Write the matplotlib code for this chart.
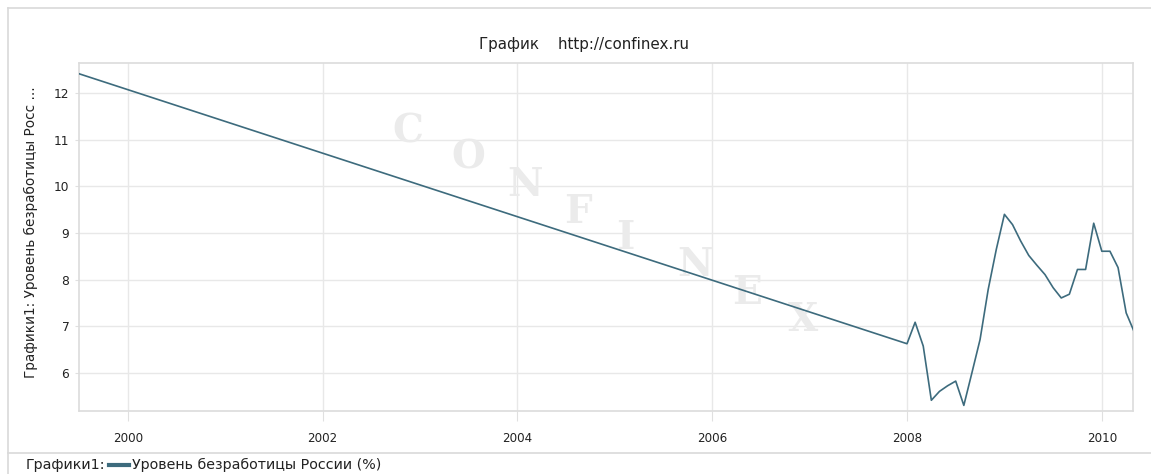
import numpy as np
import matplotlib.pyplot as plt
from matplotlib.lines import Line2D

# данные (годы в десятичном виде)
years = [1999.5, 2008.0]
values = [12.41, 6.63]

months_2008 = [2008 + i / 12.0 for i in range(1, 29)]
values_2008 = [7.09, 6.58, 5.42, 5.61, 5.73, 5.83, 5.31, 6.01, 6.72, 7.79, 8.65,
               9.40, 9.18, 8.83, 8.52, 8.31, 8.11, 7.83, 7.61, 7.69, 8.22, 8.22,
               9.21, 8.61, 8.61, 8.26, 7.29, 6.88]

x = np.array(years + months_2008)
y = np.array(values + values_2008)

xticks = [2000, 2002, 2004, 2006, 2008, 2010]
yticks = [6, 7, 8, 9, 10, 11, 12]
watermark = "CONFINEX"

W, H = 1151, 474
fig = plt.figure(figsize=(W / 100, H / 100), dpi=100)
fig.patch.set_facecolor('white')

# рамка панели
frame_col = '#d9d9d9'
fig.add_artist(Line2D([8 / W, 1], [1 - 8 / H, 1 - 8 / H], color=frame_col, lw=1.2))
fig.add_artist(Line2D([8 / W, 8 / W], [0, 1 - 8 / H], color=frame_col, lw=1.2))
fig.add_artist(Line2D([8 / W, 1], [1 - 453 / H, 1 - 453 / H], color=frame_col, lw=1.2))

ax = fig.add_axes([79 / W, 1 - 411 / H, (1133 - 79) / W, (411 - 63) / H])
ax.set_facecolor('white')

# водяной знак (под линией)
wm_pos = [(408, 132), (468, 158), (525, 185), (578, 212), (625, 238),
          (695, 265), (747, 293), (803, 320)]
for ch, (px, py) in zip(watermark, wm_pos):
    ax.text(px / W, 1 - py / H, ch, transform=fig.transFigure, fontsize=28,
            family='DejaVu Serif', weight='bold', color='#ebebeb',
            ha='center', va='center', zorder=1)

ax.plot(x, y, color='#3d6b7d', lw=1.2, zorder=3)

ax.set_xlim(1999.5, 2010.32)
ax.set_ylim(5.19, 12.64)
ax.set_xticks(xticks)
ax.set_xticklabels([str(t) for t in xticks])
ax.set_yticks(yticks)
ax.grid(True, color='#e8e8e8', lw=1.0)
ax.set_axisbelow(True)
for s in ax.spines.values():
    s.set_color('#dcdcdc')
    s.set_linewidth(1.2)
ax.tick_params(axis='x', length=7, color='#e0e0e0', labelsize=8.6, pad=8, labelcolor='#222222')
ax.tick_params(axis='y', length=3, color='#e0e0e0', labelsize=8.8, pad=4, labelcolor='#222222')

fig.text(0.507, 1 - 44 / H, 'График    http://confinex.ru', ha='center', va='center',
         fontsize=10.9, color='#222222')
fig.text(31 / W, 1 - 232 / H, 'Графики1: Уровень безработицы Росс ...', rotation=90,
         ha='center', va='center', fontsize=9.8, color='#222222')

# легенда
fig.text(26 / W, 1 - 465 / H, 'Графики1:', ha='left', va='center', fontsize=10.3, color='#222222')
fig.add_artist(Line2D([109 / W, 129 / W], [1 - 465 / H, 1 - 465 / H], color='#3d6b7d', lw=3))
fig.text(132 / W, 1 - 465 / H, 'Уровень безработицы России (%)', ha='left', va='center',
         fontsize=10.3, color='#222222')

fig.savefig('out.png', dpi=100)
